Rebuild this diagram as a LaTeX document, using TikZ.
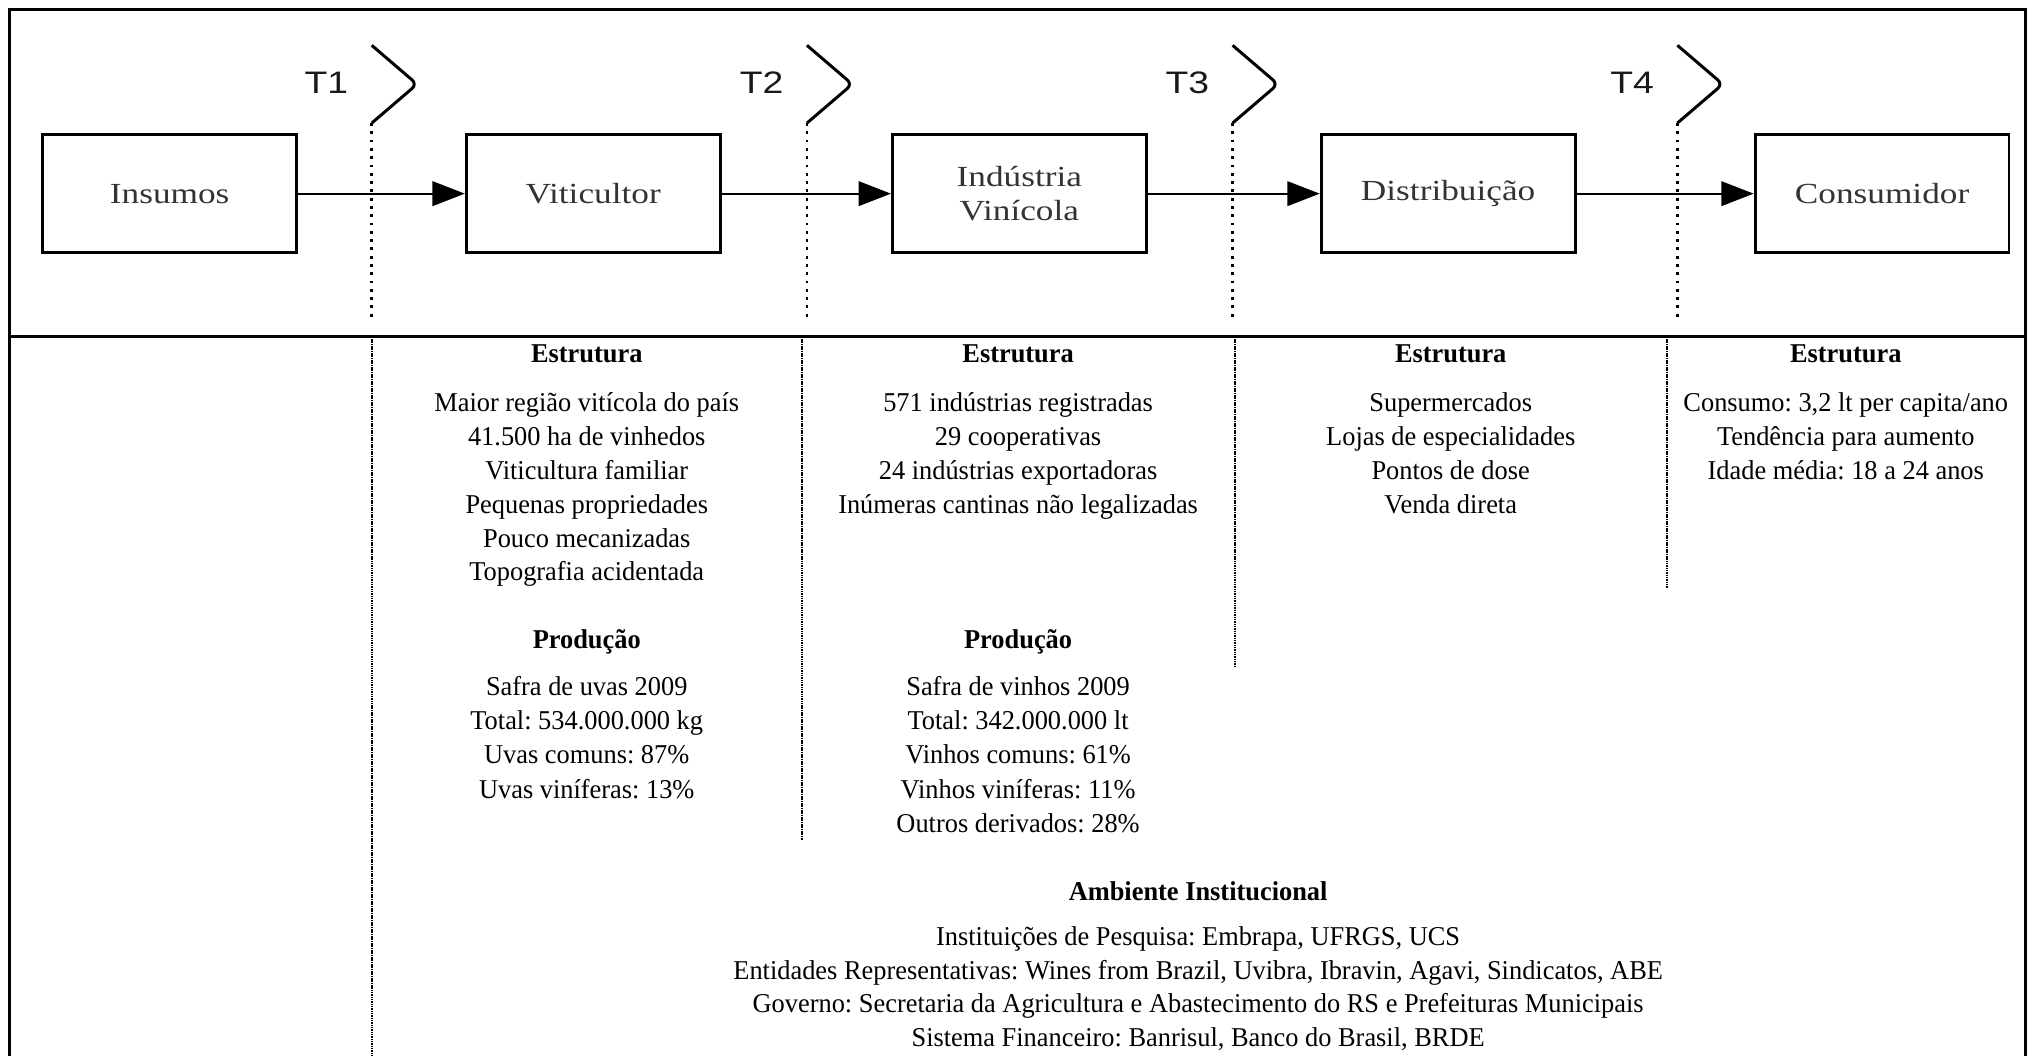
\documentclass[tikz,border=0pt]{standalone}
\usepackage{fontspec}
\setmainfont{Liberation Serif}
\newfontfamily\bodyfont[FakeStretch=0.97]{Liberation Serif}
\newfontfamily\boxfont[FakeStretch=1.21]{Liberation Serif}
\newfontfamily\tlabfont[FakeStretch=1.2]{Liberation Sans}
\usetikzlibrary{arrows.meta}
\frenchspacing
\begin{document}
\begin{tikzpicture}[x=1pt,y=-1pt,
  stage/.style={draw, line width=2.3pt, minimum width=196pt, minimum height=91pt, inner sep=0pt,
    font=\boxfont\fontsize{22.5}{25.7}\selectfont, text=black!80, align=center},
  flow/.style={line width=1.5pt, -{Triangle[length=25pt,width=19pt]}},
  tline/.style={line width=2.2pt, dash pattern=on 2.2pt off 4.2pt},
  chev/.style={line width=2.3pt, rounded corners=5pt},
  tlab/.style={font=\tlabfont\fontsize{24}{24}\selectfont, text=black!90, inner sep=0pt},
  colsep/.style={line width=1.8pt, dash pattern=on 1.2pt off 0.6pt},
  frameline/.style={line width=2.4pt},
  hd/.style={font=\bodyfont\bfseries\fontsize{21}{26}\selectfont, inner sep=0pt, text height=14pt, text depth=0pt},
  ln/.style={font=\bodyfont\fontsize{21}{26}\selectfont, inner sep=0pt, text height=14pt, text depth=0pt}
]
\useasboundingbox (0,0) rectangle (1568,815);

% frame
\draw[frameline] (7.5,7) rectangle (1564,260);
\draw[frameline] (7.5,260) -- (7.5,815);
\draw[frameline] (1564,260) -- (1564,815);

% stages
\node[stage] (ins) at (131,149.5) {Insumos};
\node[stage] (vit) at (458,149.5) {Viticultor};
\node[stage] (ind) at (787,149.5) {Indústria\\Vinícola};
\node[stage] (dis) at (1118,149.5) {Distribuição};
\node[stage] (con) at (1453,149.5) {Consumidor};

\draw[flow] (ins) -- (vit);
\draw[flow] (vit) -- (ind);
\draw[flow] (ind) -- (dis);
\draw[flow] (dis) -- (con);

% transaction markers
\foreach \X [count=\k] in {287,623,951.6,1295}{
  \coordinate (t\k a) at (\X,35);
  \coordinate (t\k b) at (\X+35,65);
  \coordinate (t\k c) at (\X,95);
  \coordinate (t\k d) at (\X,245);
  \draw[chev] (t\k a) -- (t\k b) -- (t\k c);
  \draw[tline] (t\k c) -- (t\k d);
  \node[tlab] (tl\k) at (\X-35,64) {T\k};
}

% column separators
\coordinate (s1a) at (287,260);   \coordinate (s1b) at (287,815);
\coordinate (s2a) at (619,260);   \coordinate (s2b) at (619,648.5);
\coordinate (s3a) at (953.5,260); \coordinate (s3b) at (953.5,515);
\coordinate (s4a) at (1287,260);  \coordinate (s4b) at (1287,454);
\draw[colsep] (s1a) -- (s1b);
\draw[colsep] (s2a) -- (s2b);
\draw[colsep] (s3a) -- (s3b);
\draw[colsep] (s4a) -- (s4b);

% column 1
\node[hd] (e1) at (453,273) {Estrutura};
\foreach \t [count=\i from 0] in {Maior região vitícola do país,41.500 ha de vinhedos,Viticultura familiar,Pequenas propriedades,Pouco mecanizadas,Topografia acidentada}
  \node[ln] (c1e\i) at (453,{310.5+26.2*\i}) {\t};
\node[hd] (p1) at (453,493.5) {Produção};
\foreach \t [count=\i from 0] in {Safra de uvas 2009,Total: 534.000.000 kg,Uvas comuns: 87\%,Uvas viníferas: 13\%}
  \node[ln] (c1p\i) at (453,{529.8+26.5*\i}) {\t};

% column 2
\node[hd] (e2) at (786,273) {Estrutura};
\foreach \t [count=\i from 0] in {571 indústrias registradas,29 cooperativas,24 indústrias exportadoras,Inúmeras cantinas não legalizadas}
  \node[ln] (c2e\i) at (786,{310.5+26.2*\i}) {\t};
\node[hd] (p2) at (786,493.5) {Produção};
\foreach \t [count=\i from 0] in {Safra de vinhos 2009,Total: 342.000.000 lt,Vinhos comuns: 61\%,Vinhos viníferas: 11\%,Outros derivados: 28\%}
  \node[ln] (c2p\i) at (786,{529.8+26.5*\i}) {\t};

% column 3
\node[hd] (e3) at (1120,273) {Estrutura};
\foreach \t [count=\i from 0] in {Supermercados,Lojas de especialidades,Pontos de dose,Venda direta}
  \node[ln] (c3e\i) at (1120,{310.5+26.2*\i}) {\t};

% column 4
\node[hd] (e4) at (1425,273) {Estrutura};
\foreach \t [count=\i from 0] in {{Consumo: 3,2 lt per capita/ano},Tendência para aumento,Idade média: 18 a 24 anos}
  \node[ln] (c4e\i) at (1425,{310.5+26.2*\i}) {\t};

% institutional environment
\node[hd] (amb) at (925,688) {Ambiente Institucional};
\foreach \t [count=\i from 0] in {{Instituições de Pesquisa: Embrapa, UFRGS, UCS},{Entidades Representativas: Wines from Brazil, Uvibra, Ibravin, Agavi, Sindicatos, ABE},Governo: Secretaria da Agricultura e Abastecimento do RS e Prefeituras Municipais,{Sistema Financeiro: Banrisul, Banco do Brasil, BRDE}}
  \node[ln] (am\i) at (925,{723+25.9*\i}) {\t};
\end{tikzpicture}
\end{document}
